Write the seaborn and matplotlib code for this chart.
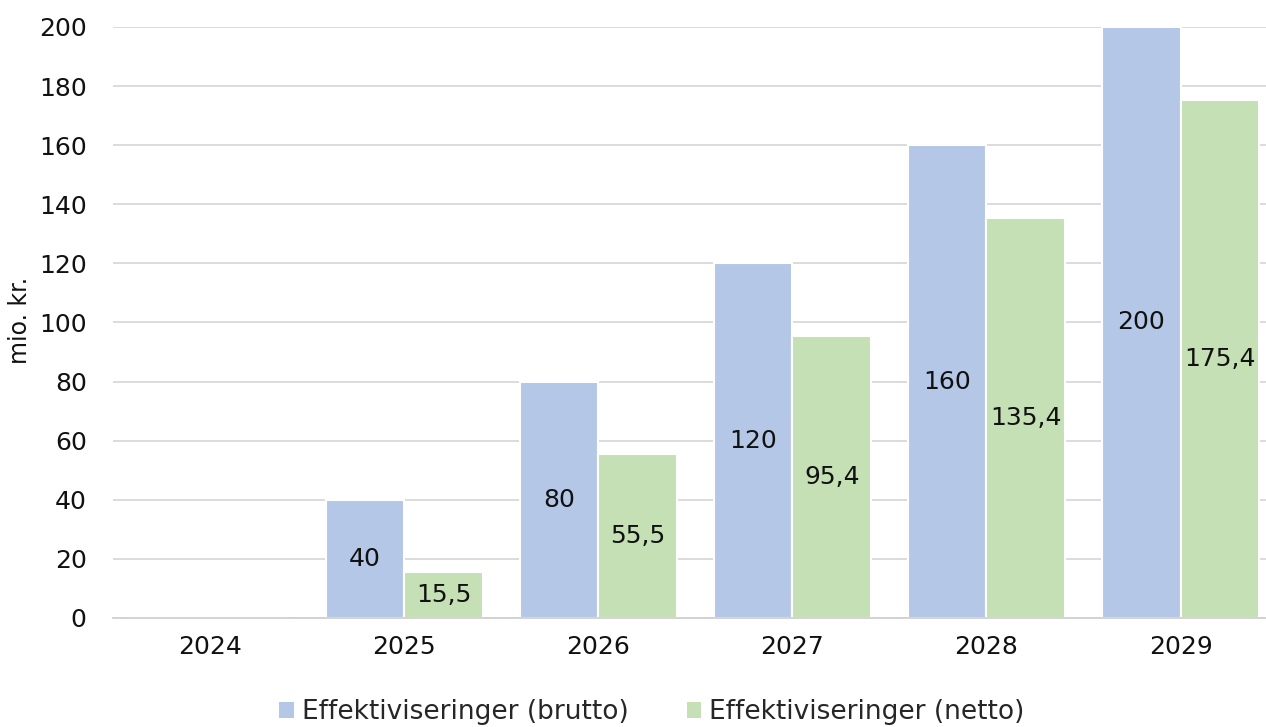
import matplotlib
matplotlib.use("Agg")
import matplotlib.pyplot as plt
import seaborn as sns
import pandas as pd
from matplotlib.patches import Patch

years = ["2024", "2025", "2026", "2027", "2028", "2029"]
brutto = [0, 40, 80, 120, 160, 200]
netto = [0, 15.5, 55.5, 95.4, 135.4, 175.4]
series_names = ["Effektiviseringer (brutto)", "Effektiviseringer (netto)"]
colors = ["#B4C7E7", "#C5E0B4"]

df = pd.DataFrame({
    "year": years * 2,
    "value": brutto + netto,
    "series": [series_names[0]] * len(years) + [series_names[1]] * len(years),
})

sns.set_theme(style="white")
plt.rcParams["font.family"] = ["DejaVu Sans"]

fig = plt.figure(figsize=(12.66, 7.27), dpi=100)
ax = fig.add_axes([0.0893, 0.15, 0.9107, 0.813])

sns.barplot(data=df, x="year", y="value", hue="series", palette=colors,
            saturation=1, width=0.81, edgecolor="white", linewidth=1.5,
            ax=ax, legend=False)

def fmt(v):
    if v == 0:
        return ""
    if float(v).is_integer():
        return f"{int(v)}"
    return f"{v:.1f}".replace(".", ",")

for cont, vals in zip(ax.containers, [brutto, netto]):
    ax.bar_label(cont, labels=[fmt(v) for v in vals], label_type="center",
                 fontsize=18, color="#111111")

ax.set_ylim(0, 200)
ax.set_xlim(-0.5, 5.44)
ax.set_yticks(range(0, 201, 20))
ax.yaxis.grid(True, color="#D9D9D9", linewidth=1.3)
ax.set_axisbelow(True)
for s in ["top", "right", "left"]:
    ax.spines[s].set_visible(False)
ax.spines["bottom"].set_color("#D0D0D0")
ax.spines["bottom"].set_linewidth(1.3)
ax.tick_params(axis="both", length=0, labelsize=18, colors="#111111")
ax.tick_params(axis="y", pad=19)
ax.tick_params(axis="x", pad=12)
ax.set_xlabel("")
ax.set_ylabel("")
fig.text(20 / 1266, 1 - 320 / 727, "mio. kr.", rotation=90, ha="center",
         va="center", fontsize=17, color="#111111")

handles = [Patch(facecolor=c, edgecolor="none") for c in colors]
fig.legend(handles, series_names, loc="lower center", ncol=2,
           bbox_to_anchor=(0.515, -0.03), frameon=False,
           handlelength=0.55, handleheight=0.55, handletextpad=0.3,
           columnspacing=2.2, prop={"family": ["DejaVu Sans"], "size": 19})

fig.savefig("out.png", dpi=100)
